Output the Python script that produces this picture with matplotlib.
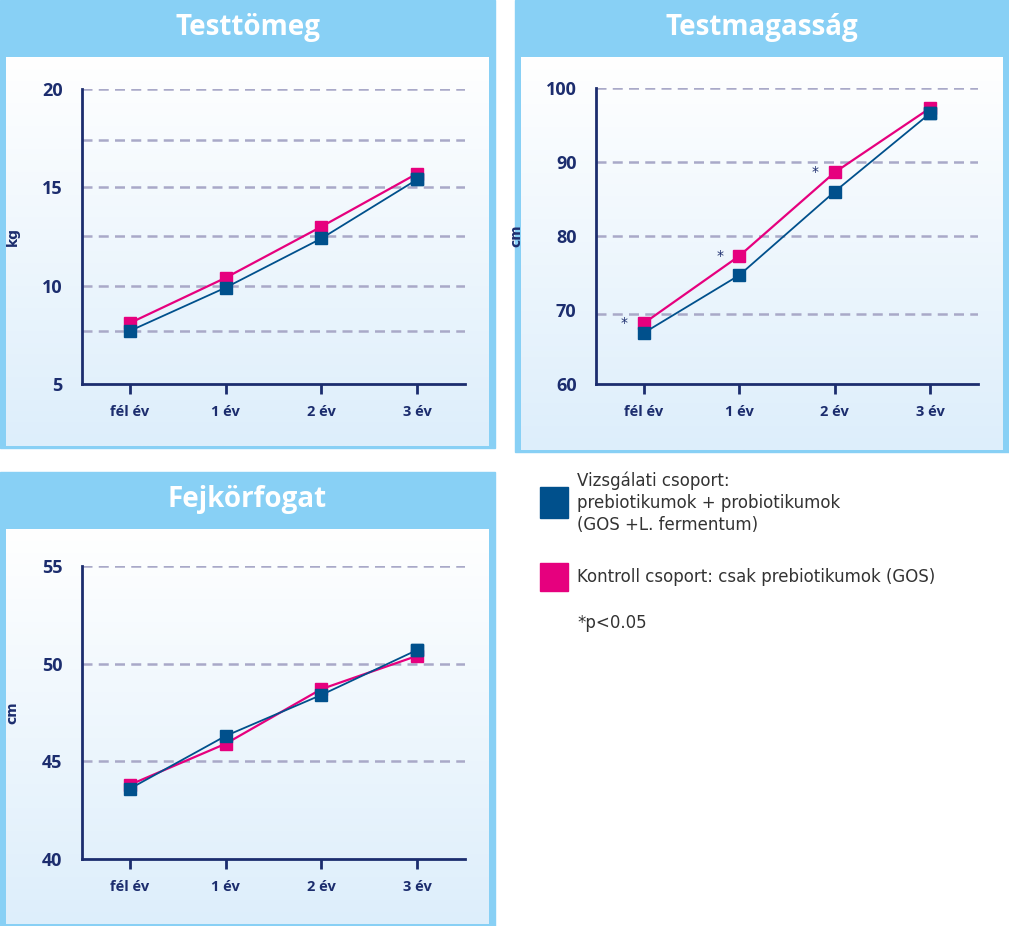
import matplotlib
matplotlib.use("Agg")
import matplotlib.pyplot as plt
import numpy as np
from matplotlib.patches import Rectangle
from matplotlib.colors import LinearSegmentedColormap

categories = ["fél év", "1 év", "2 év", "3 év"]
weight_study = [7.7, 9.9, 12.4, 15.4]
weight_ctrl = [8.1, 10.4, 13.0, 15.7]
height_study = [66.9, 74.7, 86.0, 96.6]
height_ctrl = [68.2, 77.3, 88.6, 97.3]
head_study = [43.6, 46.3, 48.4, 50.7]
head_ctrl = [43.8, 45.9, 48.7, 50.4]

W, H = 1009, 926
fig = plt.figure(figsize=(W/100, H/100), dpi=100)
fig.patch.set_facecolor("white")
BAND = "#88d0f5"
NAVY = "#1c2d6e"
BLUE = "#00508c"
PINK = "#e6007e"
GRID = "#a9a9c8"

def fx(x): return x / W
def fy(y): return 1 - y / H

grad = np.linspace(0, 1, 256).reshape(-1, 1)
cmap = LinearSegmentedColormap.from_list("g", ["#ffffff", "#ddeefb"])

def panel(x0, y0, x1, y1, title):
    fig.patches.append(Rectangle((fx(x0), fy(y1)), fx(x1-x0), (y1-y0)/H,
                                 transform=fig.transFigure, color=BAND, zorder=0))
    bg = fig.add_axes([fx(x0+6), fy(y1-2), fx(x1-x0-12), (y1-2-(y0+57))/H], zorder=0.5)
    bg.imshow(grad, aspect="auto", cmap=cmap, extent=[0, 1, 0, 1])
    bg.axis("off")
    fig.text(fx((x0+x1)/2), fy(y0+27), title, ha="center", va="center",
             color="white", fontsize=20, fontweight="bold", family="Open Sans")

def chart(ax_box, s, c, ylim, yticks, grids, ylabel, stars=False):
    x0, y0, x1, y1 = ax_box
    ax = fig.add_axes([fx(x0), fy(y1), fx(x1-x0), (y1-y0)/H], zorder=1)
    ax.patch.set_alpha(0)
    xs = np.arange(len(categories))
    for g in grids:
        ax.axhline(g, color=GRID, ls=(0, (4, 2.5)), lw=1.8, zorder=1)
    ax.plot(xs, s, color=BLUE, lw=1.3, marker="s", ms=9, zorder=3)
    ax.plot(xs, c, color=PINK, lw=1.6, marker="s", ms=9, zorder=2)
    ax.plot(xs[-1], s[-1], marker="s", ms=9, color=BLUE, zorder=4)
    if stars:
        for i in range(3):
            ax.annotate("*", (xs[i], c[i]), xytext=(-14, 0), textcoords="offset points",
                        ha="center", va="center", color=NAVY, fontsize=10)
    ax.set_xlim(-0.5, 3.5)
    ax.set_ylim(*ylim)
    ax.set_yticks(yticks)
    ax.set_xticks(xs)
    ax.set_xticklabels(categories)
    for sp in ["top", "right"]:
        ax.spines[sp].set_visible(False)
    for sp in ["left", "bottom"]:
        ax.spines[sp].set_color(NAVY)
        ax.spines[sp].set_linewidth(2)
    ax.tick_params(axis="y", length=0, pad=14, labelsize=13, labelcolor=NAVY)
    ax.tick_params(axis="x", length=7, width=2, color=NAVY, pad=8, labelsize=10.5, labelcolor=NAVY)
    for t in ax.get_yticklabels() + ax.get_xticklabels():
        t.set_fontweight("bold")
        t.set_family("Open Sans")
    ax.set_ylabel(ylabel, color=NAVY, fontsize=10, fontweight="bold", labelpad=16)
    return ax

panel(0, 0, 495, 448, "Testtömeg")
panel(515, 0, 1009, 452, "Testmagasság")
panel(0, 472, 495, 926, "Fejkörfogat")

chart((82, 89, 465, 384), weight_study, weight_ctrl, (5, 20), [5, 10, 15, 20],
      [20, 17.4, 15, 12.5, 10, 7.7], "kg")
chart((596, 88, 978, 384), height_study, height_ctrl, (60, 100), [60, 70, 80, 90, 100],
      [100, 90, 80, 69.5], "cm", stars=True)
chart((82, 566, 465, 859), head_study, head_ctrl, (40, 55), [40, 45, 50, 55],
      [55, 50, 45], "cm")

fig.patches.append(Rectangle((fx(540), fy(518)), fx(28), 31/H, transform=fig.transFigure, color=BLUE))
fig.patches.append(Rectangle((fx(540), fy(591)), fx(28), 28/H, transform=fig.transFigure, color=PINK))
fig.text(fx(577), fy(503), "Vizsgálati csoport:\nprebiotikumok + probiotikumok\n(GOS +L. fermentum)",
         ha="left", va="center", fontsize=12, color="#333333", linespacing=1.3, family="DejaVu Sans")
fig.text(fx(577), fy(577), "Kontroll csoport: csak prebiotikumok (GOS)",
         ha="left", va="center", fontsize=12, color="#333333", family="DejaVu Sans")
fig.text(fx(577), fy(623), "*p<0.05", ha="left", va="center", fontsize=12, color="#333333",
         family="DejaVu Sans")

fig.savefig("out.png", dpi=100)
